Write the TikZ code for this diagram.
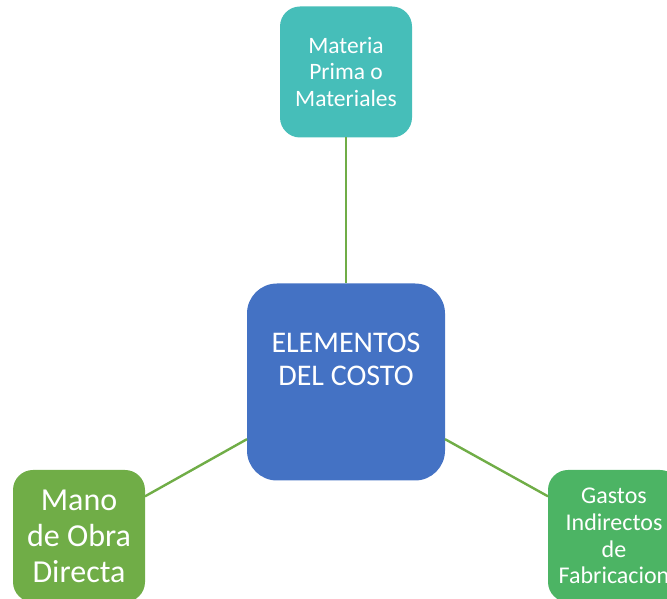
\documentclass[tikz,border=0pt]{standalone}
\usepackage{fontspec}
\setmainfont{Carlito}
\definecolor{cteal}{RGB}{70,190,185}
\definecolor{cblue}{RGB}{68,114,196}
\definecolor{cgreenA}{RGB}{112,173,71}
\definecolor{cgreenB}{RGB}{76,180,100}
\definecolor{cline}{RGB}{112,173,71}
\begin{document}
\begin{tikzpicture}[x=1pt,y=1pt,
  box/.style={rectangle,rounded corners=20pt,inner sep=0pt,outer sep=0pt,text=white,align=center,minimum width=132pt,minimum height=132pt},
  conn/.style={draw=cline,line width=2.4pt}]
\useasboundingbox (0,0) rectangle (667,599);
\node[box,fill=cteal,minimum height=131pt,font=\fontsize{23.5}{26.5}\selectfont] (mp) at (346,527) {Materia\\Prima o\\Materiales};
\node[box,fill=cblue,minimum width=198pt,minimum height=197pt,rounded corners=30pt,
  label={[text=white,align=center,font=\fontsize{30}{33}\selectfont,yshift=23pt]center:ELEMENTOS\\DEL COSTO}] (ec) at (346,217) {};
\node[box,fill=cgreenA,font=\fontsize{32}{36}\selectfont] (mo) at (79,63) {Mano\\de Obra\\Directa};
\node[box,fill=cgreenB,font=\fontsize{24}{26.7}\selectfont] (gi) at (614,63) {Gastos\\Indirectos\\de\\Fabricacion};
\draw[conn] (mp.south) -- (ec.north);
\draw[conn] (ec.210) -- (mo.31);
\draw[conn] (ec.330) -- (gi.149);
\end{tikzpicture}
\end{document}
